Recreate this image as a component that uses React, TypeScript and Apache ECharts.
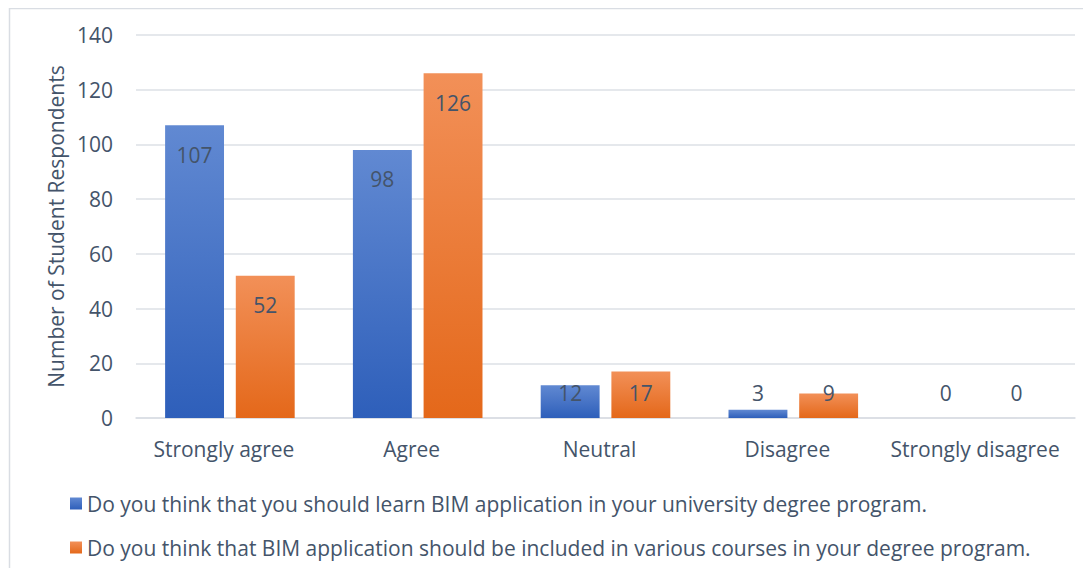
import React, { useEffect, useRef } from "react";
import * as echarts from "echarts";

const categories = ["Strongly agree", "Agree", "Neutral", "Disagree", "Strongly disagree"];
const seriesNames = [
  "Do you think that you should learn BIM application in your university degree program.",
  "Do you think that BIM application should be included in various courses in your degree program.",
];
const learnValues = [107, 98, 12, 3, 0];
const includeValues = [52, 126, 17, 9, 0];
const yTicks = { min: 0, max: 140, interval: 20 };

const TEXT = "#44546a";
const FONT = "'Open Sans', Lato, sans-serif";
const FS = 21;

function makeData(vals: number[]) {
  return vals.map((v) => ({
    value: v,
    label:
      v >= 20
        ? { position: "insideTop", distance: 19 }
        : { position: "insideBottom", distance: 15 },
  }));
}

const blue = new echarts.graphic.LinearGradient(0, 0, 0, 1, [
  { offset: 0, color: "#6189d2" },
  { offset: 1, color: "#2e5fba" },
]);
const orange = new echarts.graphic.LinearGradient(0, 0, 0, 1, [
  { offset: 0, color: "#f29058" },
  { offset: 1, color: "#e4681a" },
]);

export default function App() {
  const ref = useRef<HTMLDivElement>(null);
  useEffect(() => {
    const chart = echarts.init(ref.current!, null, { renderer: "svg" });
    const labelStyle = {
      show: true,
      color: TEXT,
      fontSize: FS,
      lineHeight: 21,
      fontFamily: FONT,
    };
    chart.setOption({
      animation: false,
      textStyle: { fontFamily: FONT },
      graphic: [
        {
          type: "rect",
          left: 7,
          top: 6,
          shape: { width: 1200, height: 700 },
          style: { fill: "none", stroke: "#d9dde3", lineWidth: 1.5 },
          silent: true,
          z: -10,
        },
      ],
      grid: { left: 136, right: 16, top: 35, bottom: 158 },
      legend: {
        orient: "vertical",
        left: 65,
        top: 488,
        itemWidth: 12,
        itemHeight: 12,
        itemGap: 23,
        icon: "rect",
        textStyle: { color: TEXT, fontSize: FS, fontFamily: FONT, padding: [0, 0, 0, 0] },
        data: seriesNames,
      },
      xAxis: {
        type: "category",
        data: categories,
        axisLine: { lineStyle: { color: "#d9dde3", width: 1.5 } },
        axisTick: { show: false },
        axisLabel: {
          color: TEXT,
          fontSize: FS,
          fontFamily: FONT,
          margin: 20,
          interval: 0,
          padding: [0, 12, 0, 0],
        },
      },
      yAxis: {
        type: "value",
        min: yTicks.min,
        max: yTicks.max,
        interval: yTicks.interval,
        name: "Number of Student Respondents",
        nameLocation: "middle",
        nameGap: 67,
        nameTextStyle: { color: TEXT, fontSize: FS, fontFamily: FONT },
        axisLine: { show: false },
        axisTick: { show: false },
        axisLabel: { color: TEXT, fontSize: FS, fontFamily: FONT, margin: 23 },
        splitLine: { lineStyle: { color: "#dde0e6", width: 1.5 } },
      },
      series: [
        {
          name: seriesNames[0],
          type: "bar",
          data: makeData(learnValues),
          itemStyle: { color: blue },
          barGap: "20%",
          barCategoryGap: "31%",
          label: labelStyle,
        },
        {
          name: seriesNames[1],
          type: "bar",
          data: makeData(includeValues),
          itemStyle: { color: orange },
          label: labelStyle,
        },
      ],
    });
    return () => chart.dispose();
  }, []);
  return <div ref={ref} style={{ width: 1091, height: 576, margin: -8 }} />;
}
